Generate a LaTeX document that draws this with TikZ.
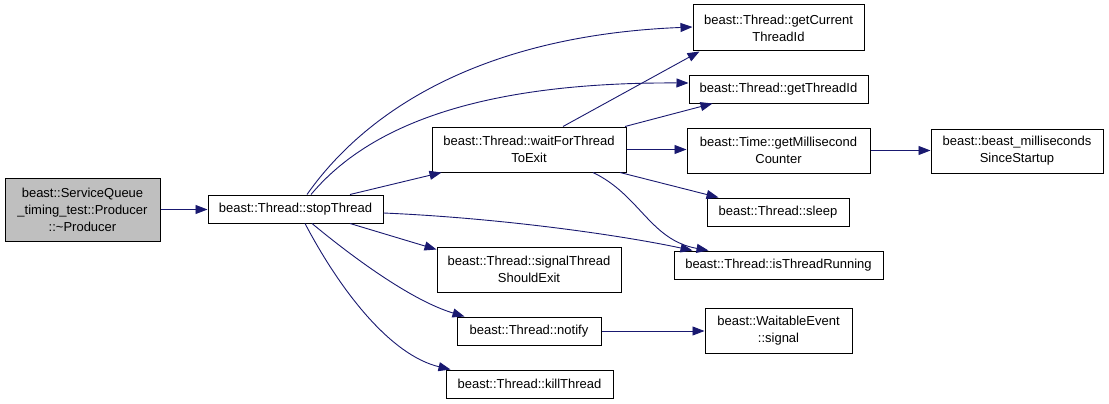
\documentclass[tikz,border=0pt]{standalone}
\usepackage{fontspec}
\setmainfont{Liberation Sans}
\usetikzlibrary{arrows.meta}
\definecolor{edgeblue}{HTML}{191970}
\definecolor{nodegray}{HTML}{BFBFBF}
\tikzset{
  fn/.style={draw=black, line width=1pt, fill=white, inner sep=0pt, align=center,
    font=\fontsize{13}{17}\selectfont},
  call/.style={draw=edgeblue, line width=0.9pt, -{Triangle[length=12pt,width=9pt]}}
}
\begin{document}
\begin{tikzpicture}[x=1pt,y=-1pt]
\useasboundingbox (0,0) rectangle (1109,404);
\node[fn, fill=nodegray, minimum width=155pt, minimum height=63pt] (prod) at (82.5,209.5) {beast::ServiceQueue\\\_timing\_test::Producer\\::\textasciitilde Producer};
\node[fn, minimum width=175pt, minimum height=28pt] (stop) at (295.5,209) {beast::Thread::stopThread};
\node[fn, minimum width=194pt, minimum height=45pt] (wait) at (529,149.5) {beast::Thread::waitForThread\\ToExit};
\node[fn, minimum width=171pt, minimum height=46pt] (gcur) at (778.5,28) {beast::Thread::getCurrent\\ThreadId};
\node[fn, minimum width=179pt, minimum height=27pt] (gtid) at (778.5,89.5) {beast::Thread::getThreadId};
\node[fn, minimum width=183pt, minimum height=45pt] (gms) at (778.5,150.5) {beast::Time::getMillisecond\\Counter};
\node[fn, minimum width=142pt, minimum height=28pt] (sleep) at (778,212) {beast::Thread::sleep};
\node[fn, minimum width=209pt, minimum height=28pt] (isrun) at (778.5,265) {beast::Thread::isThreadRunning};
\node[fn, minimum width=184pt, minimum height=45pt] (sig) at (529,269.5) {beast::Thread::signalThread\\ShouldExit};
\node[fn, minimum width=144pt, minimum height=28pt] (notify) at (529,331) {beast::Thread::notify};
\node[fn, minimum width=167pt, minimum height=28pt] (kill) at (529.5,384) {beast::Thread::killThread};
\node[fn, minimum width=147pt, minimum height=45pt] (wsig) at (778.5,330.5) {beast::WaitableEvent\\::signal};
\node[fn, minimum width=172pt, minimum height=44pt] (bms) at (1017,151) {beast::beast\_milliseconds\\SinceStartup};

\draw[call] (prod.east) -- (prod.east -| stop.west);
\draw[call] ([xshift=11.5pt]stop.north) .. controls (370,105) and (490,35) .. ([yshift=1pt]gcur.west);
\draw[call] ([xshift=15.5pt]stop.north) .. controls (365,130) and (470,82) .. ([yshift=6.5pt]gtid.west);
\draw[call] ([xshift=54.5pt]stop.north) -- ([xshift=10pt]wait.south west);
\draw[call] ([xshift=34pt]wait.north) -- ([xshift=7pt]gcur.south west);
\draw[call] ([xshift=96pt]wait.north) -- ([xshift=24pt]gtid.south west);
\draw[call] (wait.east) -- (wait.east -| gms.west);
\draw[call] (gms.east) -- (gms.east -| bms.west);
\draw[call] ([xshift=91pt]wait.south) -- ([xshift=12pt]sleep.north west);
\draw[call] ([xshift=64pt]wait.south) .. controls (640,195) and (650,240) .. ([xshift=35pt]isrun.north west);
\draw[call] ([yshift=-4pt]stop.east) .. controls (500,218) and (620,235) .. ([xshift=19pt]isrun.north west);
\draw[call] ([xshift=54.5pt]stop.south) -- ([yshift=-3pt]sig.north west);
\draw[call] ([xshift=16.5pt]stop.south) .. controls (350,255) and (410,300) .. ([xshift=8pt]notify.north west);
\draw[call] ([xshift=9.5pt]stop.south) .. controls (340,290) and (390,355) .. ([xshift=5pt]kill.north west);
\draw[call] (notify.east) -- (notify.east -| wsig.west);
\end{tikzpicture}
\end{document}
